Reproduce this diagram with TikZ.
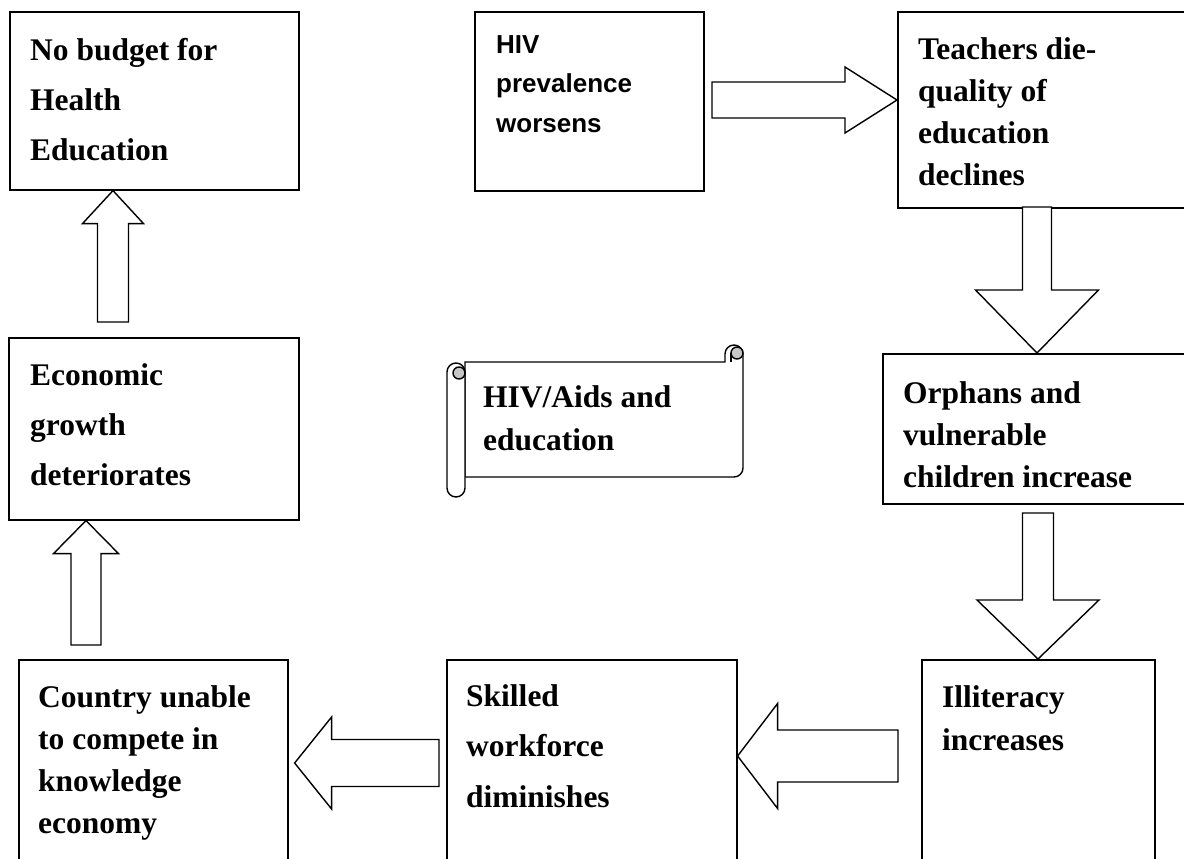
\documentclass[tikz,border=0pt]{standalone}
\usepackage{fontspec}
\setmainfont{Liberation Serif}
\newfontfamily\arialfont{Liberation Sans}
\usetikzlibrary{calc, positioning}
\tikzset{
    box/.style={rectangle, draw, line width=1.6pt, anchor=north west, inner sep=0pt},
    boxtext/.style={anchor=base west, align=left, inner sep=0pt, font=\bfseries\fontsize{31.5}{#1}\selectfont},
    boxtext/.default=42,
    blockarrow/.style={draw, line width=1.4pt, fill=white, line join=miter},
    roll/.style={draw, line width=1.4pt, fill=white}
}
% tail, tip, half shaft, half head, head length
\newcommand{\fatarrow}[5]{%
    \path ($(#2)!#5!(#1)$) coordinate (hb);
    \draw[blockarrow] ($(#1)!#3!90:(#2)$) -- ($(hb)!#3!90:(#2)$) -- ($(hb)!#4!90:(#2)$) -- (#2)
        -- ($(hb)!#4!-90:(#2)$) -- ($(hb)!#3!-90:(#2)$) -- ($(#1)!#3!-90:(#2)$) -- cycle;
}
\begin{document}
\begin{tikzpicture}[x=1pt, y=-1pt]
    \useasboundingbox (0,0) rectangle (1184,859);
    \clip (0,0) rectangle (1184,859);

    % Left column (texts placed by their last baseline)
    \node (Budget) [box, minimum width=289pt, minimum height=178pt] at (9,11) {};
    \node (Economy) [box, minimum width=290pt, minimum height=182pt] at (8,337) {};
    \node (Country) [box, minimum width=269pt, minimum height=250pt] at (18,659) {};

    \node (BudgetText) [boxtext=50] at (30,160) {No budget for\\Health\\Education};
    \node (EconomyText) [boxtext=50] at (30,485) {Economic\\growth\\deteriorates};
    \node (CountryText) [boxtext=42] at (38,833) {Country unable\\to compete in\\knowledge\\economy};

    % Top row and right column
    \node (Prevalence) [box, minimum width=229pt, minimum height=179pt] at (474,11) {};
    \node (Teachers) [box, minimum width=310pt, minimum height=196pt] at (897,11) {};
    \node (Orphans) [box, minimum width=320pt, minimum height=150pt] at (882,353) {};

    \node (PrevalenceText) [boxtext, font=\arialfont\bfseries\fontsize{26}{39.5}\selectfont] at (496,132) {HIV\\prevalence\\worsens};
    \node (TeachersText) [boxtext=41.7] at (918,185) {Teachers die-\\quality of\\education\\declines};
    \node (OrphansText) [boxtext=42] at (903,487) {Orphans and\\vulnerable\\children increase};

    % Bottom row
    \node (Skills) [box, minimum width=290pt, minimum height=250pt] at (446,659) {};
    \node (Illiteracy) [box, minimum width=233pt, minimum height=250pt] at (921,659) {};

    \node (SkillsText) [boxtext=50.5] at (466,807) {Skilled\\workforce\\diminishes};
    \node (IlliteracyText) [boxtext=43] at (942,750) {Illiteracy\\increases};

    % Scroll
    \draw[roll] (465,362) -- (725,362) -- (725,354) arc[start angle=180, end angle=360, radius=9]
        -- (743,468) arc[start angle=0, end angle=90, radius=9] -- (465,477) -- cycle;
    \draw[line width=1.4pt, fill=gray!45] (737,353) circle[radius=6];
    \draw[line width=1.4pt] (731,353) -- (731,362);
    \draw[roll] (447,372) arc[start angle=180, end angle=360, radius=9]
        -- (465,488) arc[start angle=0, end angle=180, radius=9] -- cycle;
    \draw[line width=1.4pt, fill=gray!45] (459,373) circle[radius=6];
    \node (Scroll) [boxtext=43] at (483,450) {HIV/Aids and\\education};

    % Block arrows
    \coordinate (PrevalenceOut) at (712,100);
    \coordinate (TeachersIn) at (PrevalenceOut -| Teachers.west);
    \fatarrow{PrevalenceOut}{TeachersIn}{18pt}{33pt}{52pt}

    \coordinate (TeachersOut) at (1037,207);
    \coordinate (OrphansIn) at (TeachersOut |- Orphans.north);
    \fatarrow{TeachersOut}{OrphansIn}{14.5pt}{61.5pt}{63pt}

    \coordinate (OrphansOut) at (1038,513);
    \coordinate (IlliteracyIn) at (OrphansOut |- Illiteracy.north);
    \fatarrow{OrphansOut}{IlliteracyIn}{15.5pt}{61pt}{59pt}

    \coordinate (IlliteracyOut) at (898,756);
    \coordinate (SkillsIn) at (IlliteracyOut -| Skills.east);
    \fatarrow{IlliteracyOut}{SkillsIn}{26pt}{52.5pt}{40pt}

    \coordinate (SkillsOut) at (439,763);
    \coordinate (CountryIn) at ($(SkillsOut -| Country.east)+(6,0)$);
    \fatarrow{SkillsOut}{CountryIn}{23.5pt}{46pt}{37pt}

    \coordinate (CountryOut) at (86,645);
    \coordinate (EconomyIn) at (CountryOut |- Economy.south);
    \fatarrow{CountryOut}{EconomyIn}{15pt}{32.5pt}{33pt}

    \coordinate (EconomyOut) at (113,322);
    \coordinate (BudgetIn) at (EconomyOut |- Budget.south);
    \fatarrow{EconomyOut}{BudgetIn}{15.5pt}{30.5pt}{33pt}
\end{tikzpicture}
\end{document}
